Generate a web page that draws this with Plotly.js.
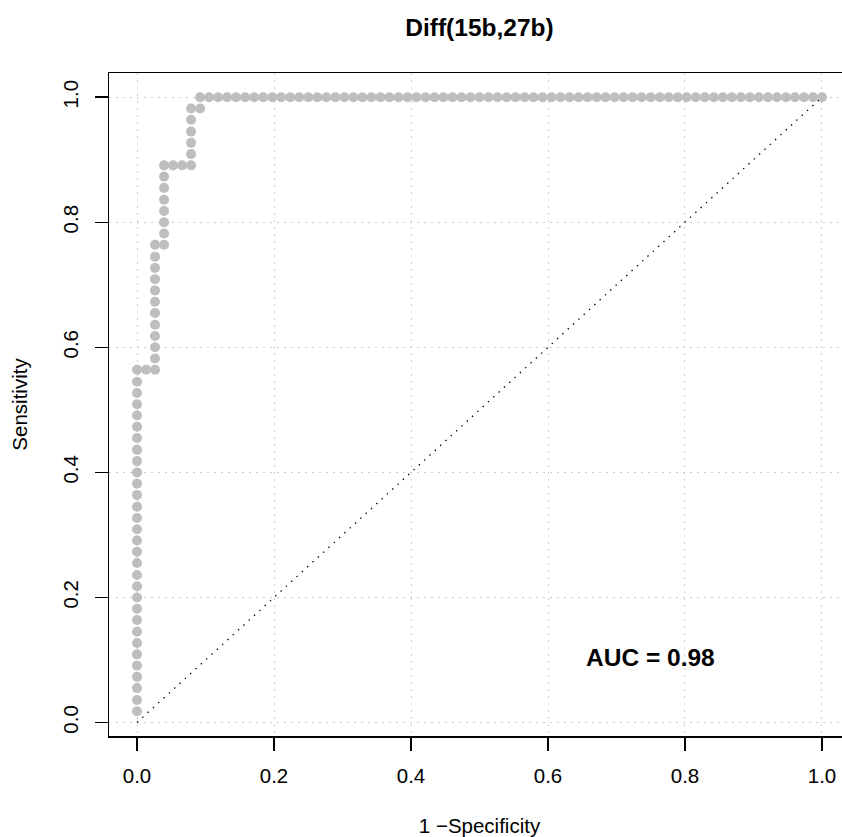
<!DOCTYPE html>
<html>
<head>
<meta charset="utf-8">
<script src="https://cdn.plot.ly/plotly-3.0.1.min.js"></script>
<style>
html,body{margin:0;padding:0;overflow:hidden;background:#fff;}
#chart{width:870px;height:837px;}
</style>
</head>
<body>
<div id="chart"></div>
<script>
// ROC points: 1 - Specificity (x) and Sensitivity (y)
var fpr = [
  0,0,0,0,0,0,0,0,0,0,0,0,0,0,0,0,0,0,0,0,0,0,0,0,0,0,0,0,0,0,0,
  0.0132,0.0263,
  0.0263,0.0263,0.0263,0.0263,0.0263,0.0263,0.0263,0.0263,0.0263,0.0263,0.0263,
  0.0395,
  0.0395,0.0395,0.0395,0.0395,0.0395,0.0395,0.0395,
  0.0526,0.0658,0.0789,
  0.0789,0.0789,0.0789,0.0789,0.0789,
  0.0921,
  0.0921,0.1053,0.1184,0.1316,0.1447,0.1579,0.1711,0.1842,0.1974,0.2105,
  0.2237,0.2368,0.2500,0.2632,0.2763,0.2895,0.3026,0.3158,0.3289,0.3421,
  0.3553,0.3684,0.3816,0.3947,0.4079,0.4211,0.4342,0.4474,0.4605,0.4737,
  0.4868,0.5000,0.5132,0.5263,0.5395,0.5526,0.5658,0.5789,0.5921,0.6053,
  0.6184,0.6316,0.6447,0.6579,0.6711,0.6842,0.6974,0.7105,0.7237,0.7368,
  0.7500,0.7632,0.7763,0.7895,0.8026,0.8158,0.8289,0.8421,0.8553,0.8684,
  0.8816,0.8947,0.9079,0.9211,0.9342,0.9474,0.9605,0.9737,0.9868,1.0000
];
var tpr = [
  0.018,0.036,0.055,0.073,0.091,0.109,0.127,0.145,0.164,0.182,
  0.200,0.218,0.236,0.255,0.273,0.291,0.309,0.327,0.345,0.364,
  0.382,0.400,0.418,0.436,0.455,0.473,0.491,0.509,0.527,0.545,0.564,
  0.564,0.564,
  0.582,0.600,0.618,0.636,0.655,0.673,0.691,0.709,0.727,0.745,0.764,
  0.764,
  0.782,0.800,0.818,0.836,0.855,0.873,0.891,
  0.891,0.891,0.891,
  0.909,0.927,0.945,0.964,0.982,
  0.982,
  1,1,1,1,1,1,1,1,1,1,
  1,1,1,1,1,1,1,1,1,1,
  1,1,1,1,1,1,1,1,1,1,
  1,1,1,1,1,1,1,1,1,1,
  1,1,1,1,1,1,1,1,1,1,
  1,1,1,1,1,1,1,1,1,1,
  1,1,1,1,1,1,1,1,1,1
];
var diagX = [0, 1];
var diagY = [0, 1];
var tickVals = [0, 0.2, 0.4, 0.6, 0.8, 1.0];
var tickText = ["0.0", "0.2", "0.4", "0.6", "0.8", "1.0"];
var chartTitle = "Diff(15b,27b)";
var xTitle = "1 \u2212Specificity";
var yTitle = "Sensitivity";
var aucLabel = "AUC = 0.98";
var aucPos = [0.75, 0.104];

var FONT = "Liberation Sans, Arial, Helvetica, sans-serif";

var traces = [
  {
    x: fpr, y: tpr, type: "scatter", mode: "markers",
    marker: {symbol: "circle", size: 10, color: "#BEBEBE", line: {width: 0}},
    hoverinfo: "skip", showlegend: false
  },
  {
    x: diagX, y: diagY, type: "scatter", mode: "lines",
    line: {color: "#000000", width: 1.3, dash: "1.4px,5.8px"},
    hoverinfo: "skip", showlegend: false
  }
];

var axisCommon = {
  tickmode: "array",
  tickvals: tickVals,
  ticktext: tickText,
  ticks: "outside",
  ticklen: 13,
  tickwidth: 1.5,
  tickcolor: "#000",
  showline: true,
  linecolor: "#000",
  linewidth: 1.5,
  mirror: true,
  showgrid: true,
  gridcolor: "#cccccc",
  gridwidth: 1,
  griddash: "1.5px,5.5px",
  zeroline: false,
  automargin: false,
  tickfont: {family: FONT, size: 20.5, color: "#000"}
};

var layout = {
  width: 870,
  height: 837,
  margin: {l: 109, r: 20, t: 73, b: 101},
  paper_bgcolor: "#ffffff",
  plot_bgcolor: "#ffffff",
  title: {
    text: "<b>" + chartTitle + "</b>",
    font: {family: FONT, size: 24.5, color: "#000"},
    xref: "paper", x: 0.5, xanchor: "center",
    yref: "container", y: 1 - 27 / 837, yanchor: "middle"
  },
  xaxis: Object.assign({}, axisCommon, {
    range: [-0.0409, 1.0409],
    ticklabelstandoff: 8,
    title: {text: xTitle, font: {family: FONT, size: 20.5, color: "#000"}, standoff: 36}
  }),
  yaxis: Object.assign({}, axisCommon, {
    range: [-0.0216, 1.0387],
    tickangle: -90,
    ticklabelstandoff: 8,
    title: {text: yTitle, font: {family: FONT, size: 20.5, color: "#000"}, standoff: 26}
  }),
  annotations: [
    {
      x: aucPos[0], y: aucPos[1], xref: "x", yref: "y",
      text: "<b>" + aucLabel + "</b>", showarrow: false,
      font: {family: FONT, size: 24.5, color: "#000"},
      xanchor: "center", yanchor: "middle"
    }
  ]
};

Plotly.newPlot("chart", traces, layout, {staticPlot: true, displayModeBar: false});
</script>
</body>
</html>
